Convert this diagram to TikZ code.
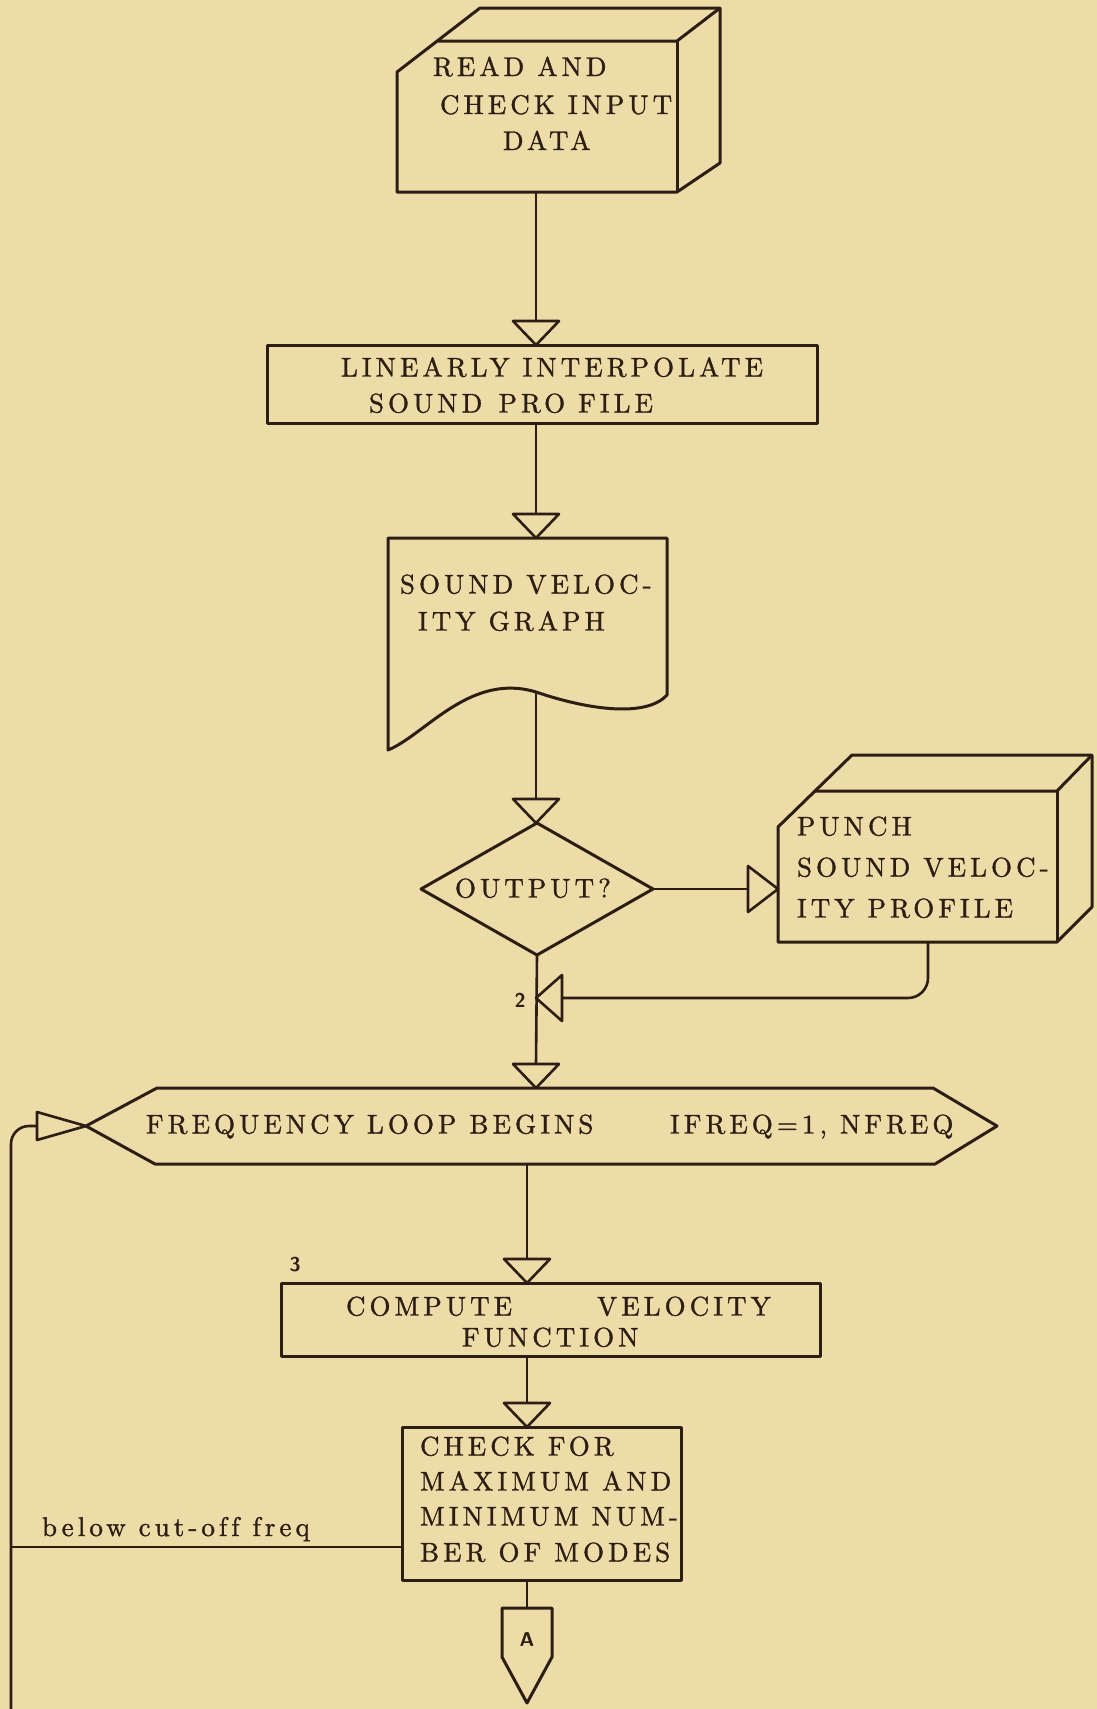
\documentclass[tikz,border=0pt]{standalone}
\usepackage{fontspec}
\newfontfamily\typeface{lmroman10-regular.otf}[LetterSpace=15, FakeBold=1.2, Ligatures=NoCommon]
\usetikzlibrary{calc,shapes.geometric}
\definecolor{paper}{RGB}{237,220,168}
\definecolor{ink}{RGB}{45,30,20}

% open flow arrowheads, given by their tip
\newcommand\tridown[2]{\draw[tri] (#1-23,#2-24) -- (#1+23,#2-24) -- (#1,#2) -- cycle;}

\begin{document}
\begin{tikzpicture}[x=0.5pt,y=-0.5pt,
  every node/.style={inner sep=0pt, outer sep=0pt},
  outline/.style={draw=ink, line width=1.5pt, line join=round},
  flow/.style={draw=ink, line width=1.3pt},
  tri/.style={draw=ink, line width=1.3pt, fill=paper, line join=round},
  txt/.style={anchor=base west, text=ink, font=\typeface\fontsize{13.5}{16}\selectfont},
  tag/.style={text=ink, font=\sffamily\bfseries\fontsize{10}{12}\selectfont},
  procbox/.style={outline, rectangle}
]
\fill[paper] (0,0) rectangle (1097,1709);
\useasboundingbox (0,0) rectangle (1097,1709);

% ---- read and check input data (card box)
\draw[outline] (397,72) -- (480,8) -- (720,8) -- (720,163) -- (677,192) -- (397,192) -- cycle;
\draw[outline] (438,41) -- (677,41) -- (720,8);
\draw[outline] (677,41) -- (677,192);
\coordinate (readOut) at (536,192);
\node[txt] (readA) at (433,76) {READ AND};
\node[txt] (readB) at (440,114) {CHECK INPUT};
\node[txt] (readC) at (503,150) {DATA};

\coordinate (t1) at (536,321);
\draw[flow] (readOut) -- (t1);
\tridown{536}{345}

% ---- interpolation
\node[procbox, minimum width=275pt, minimum height=39pt] (interp) at (542,384) {};
\node[txt] (interpA) at (341,376.5) {LINEARLY INTERPOLATE};
\node[txt] (interpB) at (369,412.5) {SOUND\hspace{.6em}PRO FILE};

\coordinate (t2) at (536,514);
\draw[flow] (interp.south -| t2) -- (t2);
\tridown{536}{538}

% ---- sound velocity graph (document)
\draw[outline] (388,538) -- (667,538) -- (667,695)
  .. controls (648,716) and (595,712) .. (536,692)
  .. controls (470,672) and (425,735) .. (388,750) -- cycle;
\coordinate (graphOut) at (536,692);
\node[txt] (graphA) at (400,593.5) {SOUND VELOC-};
\node[txt] (graphB) at (418,630.5) {ITY GRAPH};

\coordinate (t3) at (536,799);
\draw[flow] (graphOut) -- (t3);
\tridown{536}{823}

% ---- output decision
\node[outline, diamond, minimum width=116pt, minimum height=66pt] (ask) at (537,889) {};
\node[txt] (askT) at (455,897.5) {OUTPUT?};

\coordinate (t4) at (748,889);
\draw[flow] (ask.east) -- (t4);
\draw[tri] (748,866) -- (748,912) -- (778,889) -- cycle;

% ---- punch sound velocity profile (card box)
\draw[outline] (778,827) -- (852,755) -- (1092,755) -- (1092,907) -- (1057,942) -- (778,942) -- cycle;
\draw[outline] (815,791) -- (1057,791) -- (1092,755);
\draw[outline] (1057,791) -- (1057,942);
\coordinate (punchOut) at (928,942);
\node[txt] (punchA) at (797,835.5) {PUNCH};
\node[txt] (punchB) at (797,876.5) {SOUND VELOC-};
\node[txt] (punchC) at (797,917.5) {ITY PROFILE};

\coordinate (t5) at (562,998);
\draw[flow, rounded corners=10pt] (punchOut) |- (t5);
\draw[tri] (562,975) -- (562,1021) -- (536,998) -- cycle;
\node[tag] (lab2) at (520,1000) {2};

\coordinate (t6) at (536,1064);
\draw[flow] (ask.south) -- (t6);
\tridown{536}{1088}

% ---- frequency loop
\draw[outline] (86,1126) -- (157,1088) -- (933,1088) -- (997,1126) -- (935,1164) -- (155,1164) -- cycle;
\coordinate (loopOut) at (527,1164);
\node[txt] (loopA) at (146,1133.5) {FREQUENCY LOOP BEGINS};
\node[txt] (loopB) at (670,1133.5) {IFREQ=1, NFREQ};

\coordinate (loopIn) at (37,1126);
\coordinate (railEnd) at (11,1709);
\draw[flow, rounded corners=9pt] (railEnd) |- (loopIn);
\draw[tri] (37,1112) -- (37,1140) -- (86,1126) -- cycle;

\coordinate (t7) at (527,1259);
\draw[flow] (loopOut) -- (t7);
\tridown{527}{1283}
\node[tag] (lab3) at (295,1265) {3};

% ---- velocity function
\node[procbox, minimum width=269.5pt, minimum height=36.5pt] (vfun) at (550.5,1319.5) {};
\node[txt] (vfunA) at (346,1315.5) {COMPUTE};
\node[txt] (vfunB) at (597,1315.5) {VELOCITY};
\node[txt] (vfunC) at (462,1346.5) {FUNCTION};

\coordinate (t8) at (527,1403);
\draw[flow] (vfun.south -| t8) -- (t8);
\tridown{527}{1427}

% ---- mode check
\node[procbox, minimum width=139.5pt, minimum height=76.5pt] (modes) at (541.5,1503.5) {};
\node[txt] (modesA) at (420,1455.5) {CHECK FOR};
\node[txt] (modesB) at (420,1490.5) {MAXIMUM AND};
\node[txt] (modesC) at (420,1525.5) {MINIMUM NUM-};
\node[txt] (modesD) at (420,1561.5) {BER OF MODES};

\coordinate (cutoff) at (402,1547);
\draw[flow] (cutoff) -- (cutoff -| railEnd);
\node[txt] (cutT) at (42,1536) {below cut-off freq};

% ---- off-page connector A
\coordinate (aTop) at (527,1608);
\draw[flow] (modes.south -| aTop) -- (aTop);
\draw[outline] (502,1608) -- (552,1608) -- (552,1657) -- (527,1703) -- (502,1657) -- cycle;
\node[tag] (offA) at (527,1640) {A};
\end{tikzpicture}
\end{document}
